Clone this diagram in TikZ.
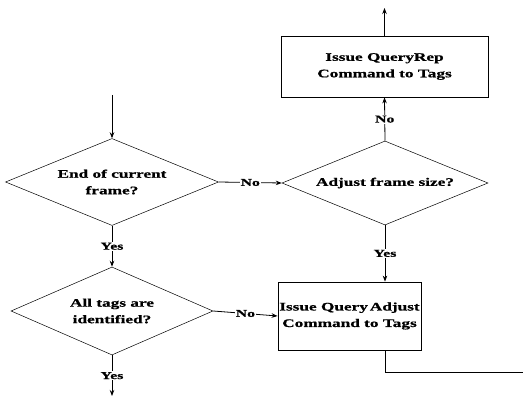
\documentclass[tikz,border=0pt]{standalone}
\usepackage{fontspec}
\setmainfont{Liberation Serif}[FakeStretch=1.5,BoldFeatures={FakeBold=0.8}]
\usetikzlibrary{shapes.geometric,arrows.meta}
\begin{document}
\begin{tikzpicture}[x=1pt,y=-1pt,
  every node/.style={font=\bfseries},
  dec/.style={diamond,draw,line width=0.5pt,inner sep=0pt,shape aspect=2.4,align=center,
    font=\fontsize{11.5}{16.5}\selectfont\bfseries},
  proc/.style={rectangle,draw,line width=0.8pt,inner sep=0pt,align=center,
    font=\fontsize{11.5}{16.5}\selectfont\bfseries},
  lab/.style={fill=white,inner sep=1pt,font=\fontsize{10.5}{12}\selectfont\bfseries},
  conn/.style={line width=0.8pt},
  arr/.style={conn,-{Stealth[length=6pt,width=4.5pt]}}]
\useasboundingbox (0,0) rectangle (523,401);
\node[dec,minimum width=213pt,minimum height=87pt] (d1) at (112,182) {End of current\\frame?};
\node[dec,minimum width=206pt,minimum height=84pt] (d2) at (385,183) {Adjust frame size?};
\node[dec,minimum width=202pt,minimum height=88pt] (d3) at (112,311) {All tags are\\identified?};
\node[proc,minimum width=207pt,minimum height=61pt] (b1) at (384.5,66.5) {Issue QueryRep\\Command to Tags};
\node[proc,minimum width=143pt,minimum height=68pt] (b2) at (349.5,316) {Issue Query\,Adjust\\Command to Tags};
\coordinate (in) at (112,95);
\coordinate (top) at (384.5,8);
\coordinate (bot) at (112,396);
\coordinate (out) at (523,372);
\draw[arr] (in) -- (d1.north);
\draw[arr] (d1.east) -- node[lab]{No} (d2.west);
\draw[arr] (d1.south) -- node[lab]{Yes} (d3.north);
\draw[arr] (d3.east) -- node[lab]{No} (b2.west);
\draw[arr] (d3.south) -- node[lab]{Yes} (bot);
\draw[arr] (d2.south) -- node[lab]{Yes} (d2.south |- b2.north);
\draw[arr] (d2.north) -- node[lab]{No} (b1.south);
\draw[arr] (b1.north) -- (top);
\draw[conn] (d2.south |- b2.south) |- (out);
\end{tikzpicture}
\end{document}
